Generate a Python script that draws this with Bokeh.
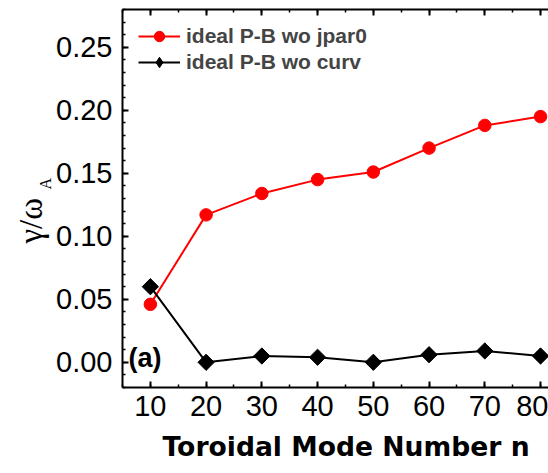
import math
from bokeh.plotting import figure
from bokeh.models import (LinearAxis, Range1d, Legend, LegendItem, Label, Title,
                          FixedTicker, ColumnDataSource, PrintfTickFormatter,
                          CustomJSTickFormatter)
from bokeh.embed import file_html
from bokeh.resources import INLINE

# Growth rate vs toroidal mode number
n_modes = [10, 20, 30, 40, 50, 60, 70, 80]
gamma_wo_jpar0 = [0.046, 0.117, 0.134, 0.145, 0.151, 0.170, 0.188, 0.195]
gamma_wo_curv = [0.060, 0.000, 0.005, 0.004, 0.000, 0.006, 0.009, 0.005]
series_names = ["ideal P-B wo jpar0", "ideal P-B wo curv"]
x_ticks = [10, 20, 30, 40, 50, 60, 70, 80]
y_ticks = [0.00, 0.05, 0.10, 0.15, 0.20, 0.25]

X0, X1 = 5.0, 81.43
Y0, Y1 = -0.02, 0.28
W, H = 548, 473
FRAME_L, FRAME_R, FRAME_T, FRAME_B = 122, 548, 9, 387

p = figure(width=W, height=H, output_backend="svg", toolbar_location=None,
           x_range=Range1d(X0, X1), y_range=Range1d(Y0, Y1),
           x_axis_location=None, y_axis_location=None)
p.min_border_left = FRAME_L
p.min_border_right = 0
p.min_border_top = FRAME_T
p.min_border_bottom = H - FRAME_B
p.outline_line_color = None
p.xgrid.visible = False
p.ygrid.visible = False
p.background_fill_color = "white"
p.border_fill_color = "white"

TICK_FONT = "Liberation Sans"


def style_axis(ax, ticks, minor):
    ax.ticker = FixedTicker(ticks=ticks, minor_ticks=minor)
    ax.axis_line_width = 2
    ax.axis_line_color = "black"
    ax.major_tick_in = 6
    ax.major_tick_out = 0
    ax.minor_tick_in = 3
    ax.minor_tick_out = 0
    ax.major_tick_line_width = 2
    ax.minor_tick_line_width = 1.5
    ax.major_label_text_font = TICK_FONT
    ax.major_label_text_font_size = "29px"
    ax.major_label_text_color = "black"


x_minor = [5 + 5 * i for i in range(17)]
y_minor = [round(-0.02 + 0.01 * i, 2) for i in range(31)]

left = LinearAxis()
style_axis(left, y_ticks, y_minor)
left.major_label_standoff = 10
left.formatter = PrintfTickFormatter(format="%.2f")
p.add_layout(left, "left")

bottom = LinearAxis()
style_axis(bottom, x_ticks, x_minor)
bottom.major_label_standoff = 8
p.add_layout(bottom, "below")

# top frame edge with inward ticks, no labels
top = LinearAxis()
style_axis(top, x_ticks, x_minor)
top.formatter = CustomJSTickFormatter(code="return ''")
top.major_label_standoff = 0
top.major_label_text_font_size = "1px"
p.add_layout(top, "above")

src = ColumnDataSource(dict(n=n_modes, a=gamma_wo_jpar0, b=gamma_wo_curv,
                            rot=[math.pi / 4] * len(n_modes)))

r1l = p.line("n", "a", source=src, color="red", line_width=2)
r1m = p.scatter("n", "a", source=src, marker="circle", size=12.5, color="red")
r2l = p.line("n", "b", source=src, color="black", line_width=2)
r2m = p.scatter("n", "b", source=src, marker="square", size=11.5,
                angle="rot", color="black")
# diamond swatch used only by the legend entry
r2k = p.scatter(x=[float("nan")], y=[float("nan")], marker="diamond",
                size=12, color="black")

legend = Legend(items=[LegendItem(label=series_names[0], renderers=[r1l, r1m]),
                       LegendItem(label=series_names[1], renderers=[r2l, r2k])],
                location=(16, 312), orientation="vertical")
legend.padding = 0
legend.spacing = 0
legend.margin = 0
legend.glyph_width = 42
legend.glyph_height = 26
legend.label_height = 26
legend.label_standoff = 6
legend.label_text_font = TICK_FONT
legend.label_text_font_style = "bold"
legend.label_text_font_size = "21px"
legend.label_text_baseline = "middle"
legend.border_line_color = None
legend.background_fill_alpha = 0
p.add_layout(legend)


def dx(px):
    return X0 + (px - FRAME_L) * (X1 - X0) / (FRAME_R - FRAME_L)


def dy(py):
    return Y0 + (FRAME_B - py) * (Y1 - Y0) / (FRAME_B - FRAME_T)


p.add_layout(Label(x=dx(128), y=dy(357), text="(a)", text_font=TICK_FONT,
                   text_font_style="bold", text_font_size="27px",
                   text_baseline="middle", text_align="left", text_color="black"))

# x axis title
p.add_layout(Title(text="Toroidal Mode Number n", align="left", offset=40,
                   text_font="DejaVu Sans", text_font_style="bold",
                   text_font_size="26.6px", text_color="black", standoff=21),
             "below")

# y axis title gamma / omega_A: subscript sits nearer the frame
p.add_layout(Title(text="A", align="left", offset=FRAME_B - 189,
                   text_font="Liberation Serif", text_font_style="normal",
                   text_font_size="16px", text_color="black", standoff=0),
             "left")
p.add_layout(Title(text="γ/ω", align="left", offset=FRAME_B - 243,
                   text_font="Liberation Serif", text_font_style="normal",
                   text_font_size="33px", text_color="black", standoff=-29),
             "left")

open("out.html", "w").write(file_html(p, INLINE))
